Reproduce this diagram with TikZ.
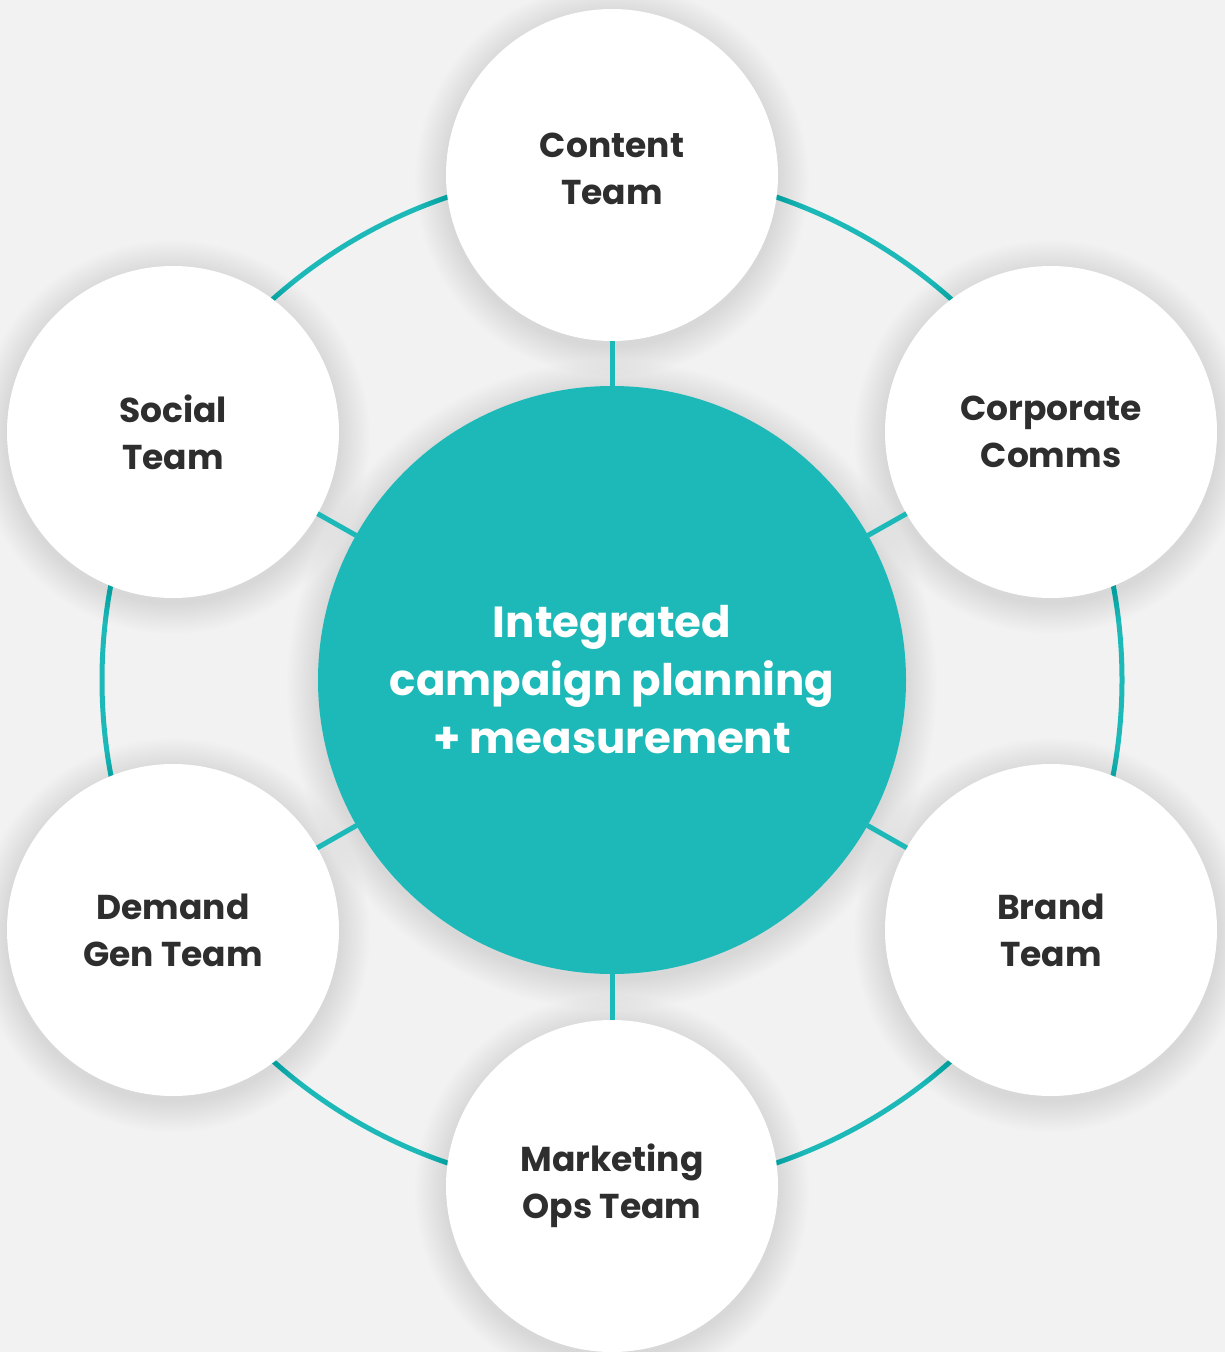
\documentclass[tikz,border=0pt]{standalone}
\usepackage{fontspec}
\setmainfont{Poppins}
\definecolor{bgc}{HTML}{F2F2F2}
\definecolor{tealc}{HTML}{1DB9B8}
\definecolor{darktxt}{HTML}{2E2E2E}
\tikzset{
  team/.style={circle, fill=white, minimum size=332pt, inner sep=0pt, outer sep=0pt,
    align=center, text=darktxt, font=\bfseries\fontsize{34.5}{47}\selectfont},
  hub/.style={circle, fill=tealc, minimum size=588pt, inner sep=0pt, outer sep=0pt,
    align=center, text=white, font=\bfseries\fontsize{43.5}{58}\selectfont},
  spoke/.style={draw=tealc, line width=5pt},
  ring/.style={draw=tealc, line width=5pt}
}
\begin{document}
\begin{tikzpicture}[x=1pt,y=-1pt]
\useasboundingbox (0,0) rectangle (1225,1352);
\fill[bgc] (0,0) rectangle (1225,1352);
\coordinate (C) at (612,680);
\draw[ring] (C) circle[radius=510pt];
% soft shadows
\foreach \x/\y/\r in {612/680/294,612/175/166,1051/432/166,1051/930/166,612/1186/166,173/930/166,173/432/166}{
  \foreach \i in {1,...,26}{
    \fill[black, opacity=0.0045] (\x,\y+5) circle[radius={(\r+1.2*\i)*1pt}];
  }
}
\node[hub] (hub) at (C) {Integrated\\campaign planning\\+ measurement};
\node[team] (content) at (612,175) {Content\\Team\\[-35pt]\mbox{}};
\node[team] (corp) at (1051,432) {Corporate\\Comms};
\node[team] (brand) at (1051,930) {Brand\\Team};
\node[team] (mops) at (612,1186) {Marketing\\Ops Team};
\node[team] (demand) at (173,930) {Demand\\Gen Team};
\node[team] (social) at (173,432) {Social\\Team};
\foreach \n in {content,corp,brand,mops,demand,social}{
  \draw[spoke] (hub) -- (\n);
}
\end{tikzpicture}
\end{document}
